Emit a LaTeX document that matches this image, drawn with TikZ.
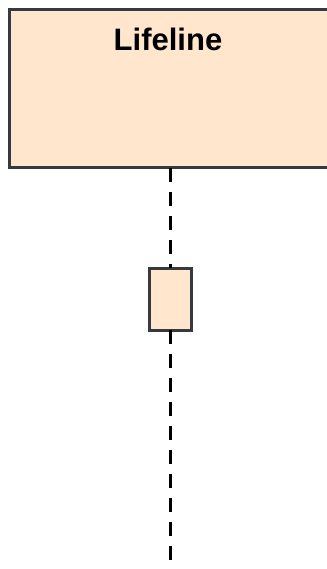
\documentclass[tikz,border=0pt]{standalone}
\usepackage{fontspec}
\setmainfont{Liberation Sans}
\definecolor{pesca}{RGB}{255,230,204}
\definecolor{bordo}{RGB}{54,57,61}

\begin{document}
\begin{tikzpicture}[
  x=1pt, y=-1pt,
  testa/.style={draw=bordo, fill=pesca, line width=3pt, minimum width=322pt,
                minimum height=158pt, anchor=north west, inner sep=0pt,
                outer sep=0pt},
  attivo/.style={draw=bordo, fill=pesca, line width=3pt, minimum width=42pt,
                 minimum height=62pt, inner sep=0pt, outer sep=0pt},
  vita/.style={draw=black, line width=3pt, dash pattern=on 14pt off 10pt}
]
\useasboundingbox (0,0) rectangle (326,569);

%--------------------------------------------------------------
% Testa della linea di vita
%--------------------------------------------------------------
\node[testa] (head) at (9,10) {};
\node[font=\fontsize{31}{36}\selectfont\bfseries, anchor=north]
  (lab) at ([xshift=-2pt,yshift=-15pt]head.north) {Lifeline};

%--------------------------------------------------------------
% Barra di attivazione e linea tratteggiata
%--------------------------------------------------------------
\node[attivo] (act) at (170,299) {};
\coordinate (end) at (170,575);

\draw[vita] (head.south) -- (act.north);
\draw[vita] (act.south) -- (end);

\end{tikzpicture}
\end{document}
